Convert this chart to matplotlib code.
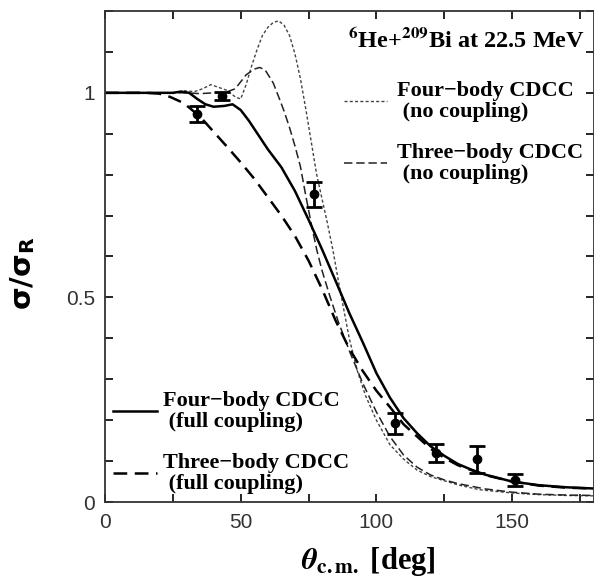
import matplotlib
matplotlib.use("Agg")
import matplotlib.pyplot as plt
from matplotlib.ticker import MultipleLocator

plt.rcParams['mathtext.fontset'] = 'stix'

# four-body CDCC, full coupling (solid)
th_4full = [0, 10, 20, 25, 28, 31, 34, 37, 40, 44, 47, 50, 53, 56, 60, 65, 70, 75, 80, 85,
            90, 95, 100, 105, 110, 115, 120, 125, 130, 135, 140, 150, 160, 170, 180]
s_4full = [1.0, 1.0, 1.0, 1.0, 1.003, 1.0, 0.985, 0.972, 0.966, 0.968, 0.972, 0.958, 0.932, 0.902,
           0.862, 0.818, 0.76, 0.69, 0.617, 0.54, 0.462, 0.39, 0.315, 0.255, 0.205, 0.168, 0.136,
           0.113, 0.093, 0.079, 0.067, 0.05, 0.041, 0.036, 0.033]

# three-body CDCC, full coupling (long dash)
th_3full = [0, 15, 20, 24, 29, 35, 40, 45, 50, 55, 60, 65, 70, 75, 80, 85, 90, 95, 100, 105,
            110, 115, 120, 125, 130, 140, 150, 160, 170, 180]
s_3full = [1.0, 1.0, 0.998, 0.99, 0.975, 0.942, 0.905, 0.868, 0.83, 0.79, 0.745, 0.7, 0.65, 0.59,
           0.52, 0.443, 0.375, 0.32, 0.272, 0.232, 0.19, 0.16, 0.13, 0.108, 0.09, 0.066, 0.05,
           0.04, 0.035, 0.033]

# four-body CDCC, no coupling (short dash)
th_4no = [0, 25, 29, 33, 36, 39, 42, 45, 48, 50, 52, 54, 56, 58, 60, 62, 64, 66, 68, 70, 72, 74,
          76, 78, 80, 82, 84, 86, 88, 90, 93, 96, 100, 105, 110, 115, 120, 126, 130, 138, 150,
          160, 170, 180]
s_4no = [1.0, 1.0, 1.005, 1.003, 1.01, 1.02, 1.013, 1.006, 0.99, 0.985, 1.02, 1.065, 1.105, 1.14,
         1.16, 1.172, 1.176, 1.165, 1.14, 1.095, 1.035, 0.96, 0.88, 0.8, 0.74, 0.68, 0.615, 0.54,
         0.47, 0.4, 0.32, 0.26, 0.2, 0.14, 0.105, 0.078, 0.062, 0.05, 0.042, 0.03, 0.022, 0.018,
         0.016, 0.015]

# three-body CDCC, no coupling (medium dash)
th_3no = [0, 25, 30, 35, 40, 44, 48, 52, 55, 57, 59, 62, 64, 66, 68, 70, 72, 74, 76, 78, 80, 83,
          86, 90, 95, 100, 105, 110, 115, 120, 125, 130, 140, 150, 160, 170, 180]
s_3no = [1.0, 1.0, 1.0, 0.998, 1.0, 1.0, 1.01, 1.044, 1.058, 1.062, 1.056, 1.024, 0.99, 0.955,
         0.915, 0.87, 0.82, 0.748, 0.68, 0.617, 0.565, 0.5, 0.44, 0.37, 0.29, 0.22, 0.16, 0.115,
         0.085, 0.066, 0.054, 0.045, 0.032, 0.024, 0.019, 0.017, 0.016]

# experimental data
th_exp = [34, 43, 77, 107, 122, 137, 151]
s_exp = [0.948, 0.993, 0.752, 0.192, 0.119, 0.104, 0.054]
err_exp = [0.02, 0.01, 0.03, 0.025, 0.022, 0.032, 0.015]

serif = 'Liberation Serif'
fs = 15

fig = plt.figure(figsize=(5.94, 5.82), dpi=100)
ax = fig.add_axes([105/594, 80/582, 488.5/594, 491/582])

l4no, = ax.plot(th_4no, s_4no, color='#444444', lw=1.0, dashes=(2.2, 1.6))
l3no, = ax.plot(th_3no, s_3no, color='#222222', lw=1.1, dashes=(5.5, 2.5))
l3full, = ax.plot(th_3full, s_3full, color='black', lw=1.8, dashes=(5.5, 3))
l4full, = ax.plot(th_4full, s_4full, color='black', lw=1.8)
ax.errorbar(th_exp, s_exp, yerr=err_exp, fmt='o', color='black', ms=6, elinewidth=2,
            capsize=5.5, capthick=2)

ax.set_xlim(0, 180)
ax.set_ylim(0, 1.2)
ax.xaxis.set_major_locator(MultipleLocator(50))
ax.xaxis.set_minor_locator(MultipleLocator(25))
ax.yaxis.set_minor_locator(MultipleLocator(0.1))
ax.set_yticks([0, 0.5, 1])
ax.set_yticklabels(['0', '0.5', '1'])
ax.tick_params(which='both', direction='in', top=True, right=True, length=6, width=1.2)
ax.tick_params(axis='x', labelsize=fs, pad=8, labelcolor='#333333')
ax.tick_params(axis='y', labelsize=fs, pad=7, labelcolor='#333333')
for lab in ax.get_xticklabels() + ax.get_yticklabels():
    lab.set_family('Liberation Sans')
for sp in ax.spines.values():
    sp.set_linewidth(1.3)
    sp.set_color('#333333')

ax.set_xlabel(r'$\mathbfit{\theta}_{\mathbf{c.m.}}$ [deg]', fontsize=22, family=serif,
              fontweight='bold')
ax.xaxis.set_label_coords(0.54, -0.088)
ax.set_ylabel('\u03c3/\u03c3$_\\mathregular{R}$', fontsize=21, family='DejaVu Sans',
              fontweight='bold')
ax.yaxis.set_label_coords(-0.139, 0.466)

ax.text(0.982, 0.925, r'$^{\mathbf{6}}$He+$^{\mathbf{209}}$Bi at 22.5 MeV', transform=ax.transAxes,
        ha='right', va='baseline', fontsize=17.5, family=serif, fontweight='bold')

leg_font = {'family': serif, 'weight': 'bold', 'size': 16}
leg1 = ax.legend([l4no, l3no], ['Four\u2212body CDCC\n (no coupling)',
                                'Three\u2212body CDCC\n (no coupling)'],
                 loc='upper left', bbox_to_anchor=(0.49, 0.858), frameon=False, prop=leg_font,
                 handlelength=1.9, handletextpad=0.45, labelspacing=0.95, borderpad=0,
                 borderaxespad=0)
for t in leg1.get_texts():
    t.set_linespacing(1.08)
ax.add_artist(leg1)
leg2 = ax.legend([l4full, l3full], ['Four\u2212body CDCC\n (full coupling)',
                                    'Three\u2212body CDCC\n (full coupling)'],
                 loc='lower left', bbox_to_anchor=(0.016, 0.016), frameon=False, prop=leg_font,
                 handlelength=1.97, handletextpad=0.28, labelspacing=0.95, borderpad=0,
                 borderaxespad=0)
for t in leg2.get_texts():
    t.set_linespacing(1.08)

fig.savefig('out.png', dpi=100)
